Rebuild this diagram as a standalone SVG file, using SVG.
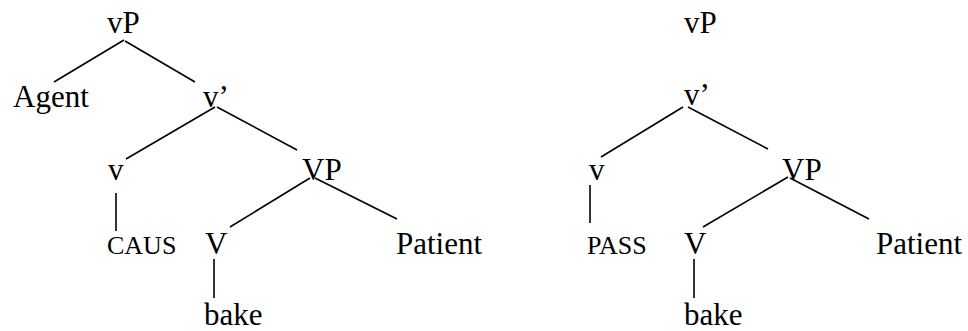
<svg xmlns="http://www.w3.org/2000/svg" width="968" height="331" viewBox="0 0 968 331">
<style>
text{font-family:"Liberation Serif","Times New Roman",serif;font-size:31px;fill:#000}
text.sc{font-size:26px}
#edges line{stroke:#000;stroke-width:1.6}
</style>
<rect width="968" height="331" fill="#fff"/>
<g id="edges">
<line x1="124" y1="40" x2="54" y2="82"/>
<line x1="125" y1="41" x2="195" y2="82"/>
<line x1="215" y1="107" x2="126" y2="159"/>
<line x1="217" y1="107" x2="297" y2="150"/>
<line x1="116" y1="193" x2="116" y2="231"/>
<line x1="310" y1="178" x2="230" y2="227"/>
<line x1="315" y1="178" x2="397" y2="219"/>
<line x1="214" y1="259" x2="214" y2="298"/>
<line x1="683" y1="107" x2="601" y2="157"/>
<line x1="688" y1="107" x2="768" y2="149"/>
<line x1="590" y1="185" x2="590" y2="223"/>
<line x1="788" y1="177" x2="703" y2="227"/>
<line x1="790" y1="178" x2="869" y2="219"/>
<line x1="694" y1="259" x2="694" y2="298"/>
</g>
<g id="L_vP"><text x="107" y="33">vP</text></g>
<g id="L_Agent"><text x="13" y="107">Agent</text></g>
<g id="L_vbar"><text x="203" y="107">v’</text></g>
<g id="L_v"><text x="108" y="180">v</text></g>
<g id="L_VP"><text x="302" y="180">VP</text></g>
<g id="L_CAUS"><text class="sc" x="107" y="254">CAUS</text></g>
<g id="L_V"><text x="205" y="254">V</text></g>
<g id="L_Patient"><text x="396" y="254">Patient</text></g>
<g id="L_bake"><text x="204" y="325">bake</text></g>
<g id="R_vP"><text x="684" y="33">vP</text></g>
<g id="R_vbar"><text x="684" y="105">v’</text></g>
<g id="R_v"><text x="589" y="180">v</text></g>
<g id="R_VP"><text x="782" y="180">VP</text></g>
<g id="R_PASS"><text class="sc" x="587" y="254">PASS</text></g>
<g id="R_V"><text x="684" y="254">V</text></g>
<g id="R_Patient"><text x="876" y="254">Patient</text></g>
<g id="R_bake"><text x="684" y="325">bake</text></g>
</svg>
